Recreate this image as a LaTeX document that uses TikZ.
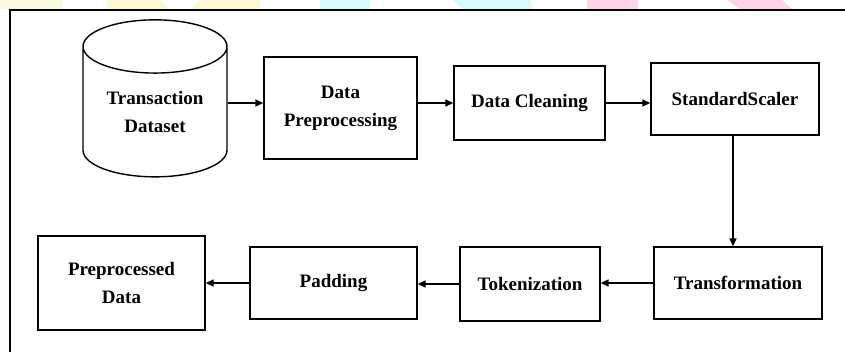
\documentclass[tikz,border=0pt]{standalone}
\usepackage{fontspec}
\setmainfont{Liberation Serif}
\usetikzlibrary{shapes.geometric,arrows.meta}
\definecolor{wmyellow}{HTML}{FFF8D4}
\definecolor{wmgreen}{HTML}{F7FADC}
\definecolor{wmcyan}{HTML}{D6FBFB}
\definecolor{wmpink}{HTML}{FFD6E8}
\begin{document}
\begin{tikzpicture}[x=1pt,y=-1pt,line width=1.4pt,
    flow/.style={draw,-{Triangle[length=8pt,width=7pt]},line width=1.5pt},
    txt/.style={font=\bfseries\fontsize{19}{28}\selectfont,align=center}]
    \tikzstyle{block}=[rectangle,draw,txt,inner sep=0pt]

    \useasboundingbox (0,0) rectangle (845,351);
    \clip (0,0) rectangle (845,351);

    \fill[wmgreen] (0,0) rectangle (62,9);
    \fill[wmyellow] (107,0) rectangle (260,9);
    \fill[white] (180,-14) circle (24);
    \fill[wmcyan] (320,0) rectangle (370,9);
    \fill[wmcyan] (453,0) -- (530,0) -- (533,9) -- (462,9) -- cycle;
    \fill[wmpink] (587,0) rectangle (638,9);
    \fill[wmpink] (727,0) -- (782,0) -- (792,9) -- (740,9) -- cycle;

    \draw[line width=2pt] (10,10) rectangle (860,370);

    \node[cylinder,shape border rotate=90,aspect=0.55,draw,txt,
        minimum width=144pt,minimum height=157pt,inner sep=0pt] (data) at (155,112) {Transaction\\Dataset};
    \node[block,minimum width=153pt,minimum height=102pt] (prep) at (340.5,108) {Data\\Preprocessing};
    \node[block,minimum width=151pt,minimum height=74pt] (clean) at (529.5,103) {Data Cleaning};
    \node[block,minimum width=168pt,minimum height=72pt] (scaler) at (735,99) {StandardScaler};
    \node[block,minimum width=168pt,minimum height=72pt] (trans) at (738,283) {Transformation};
    \node[block,minimum width=140pt,minimum height=74pt] (token) at (530,284) {Tokenization};
    \node[block,minimum width=167pt,minimum height=72pt] (pad) at (333.5,283) {Padding};
    \node[block,minimum width=167pt,minimum height=94pt] (out) at (121.5,283) {Preprocessed\\Data};

    \draw[flow] (data.east |- 0,103) -- (prep.west |- 0,103);
    \draw[flow] (prep.east |- clean.west) -- (clean.west);
    \draw[flow] (clean.east) -- (clean.east -| scaler.west);
    \draw[flow] ([xshift=-2pt]scaler.south) -- ([xshift=-2pt]scaler.south |- trans.north);
    \draw[flow] (trans.west) -- (trans.west -| token.east);
    \draw[flow] (token.west) -- (token.west -| pad.east);
    \draw[flow] (pad.west) -- (pad.west -| out.east);

  \end{tikzpicture}
\end{document}
